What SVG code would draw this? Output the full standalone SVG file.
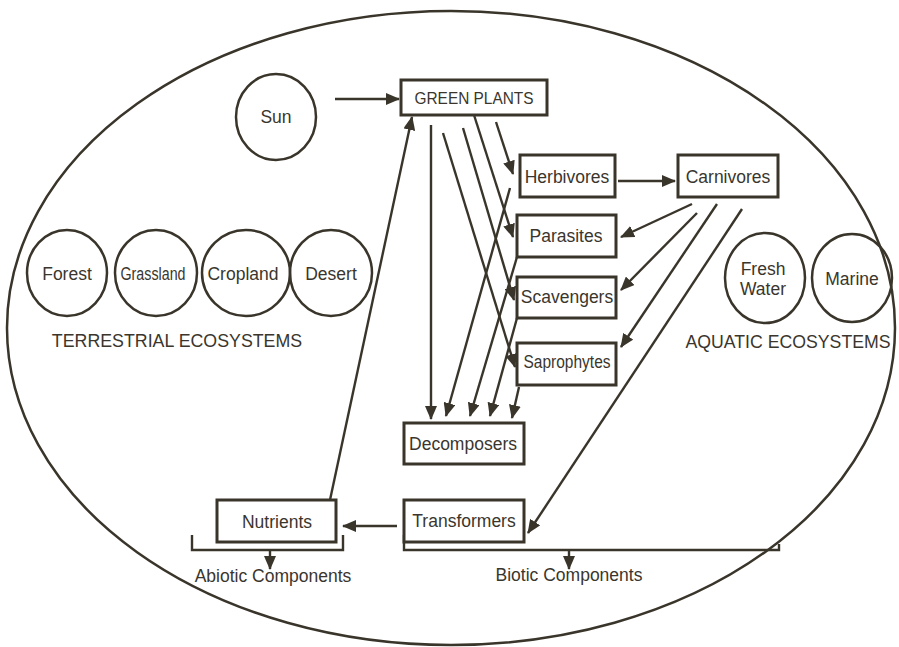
<svg xmlns="http://www.w3.org/2000/svg" width="899" height="647" viewBox="0 0 899 647">
<defs>
<style>
text{font-family:"Liberation Sans",Arial,sans-serif;font-size:17.5px;fill:#3a362d;text-anchor:middle}
.box{fill:#fff;stroke:#3a352b;stroke-width:3}
.ell{fill:none;stroke:#3a352b;stroke-width:2.5}
.ln{fill:none;stroke:#3a352b;stroke-width:2.4}
.ar{fill:none;stroke:#3a352b;stroke-width:2.4;marker-end:url(#ah)}
</style>
<marker id="ah" viewBox="0 0 14 12" refX="13" refY="6" markerWidth="14" markerHeight="12" markerUnits="userSpaceOnUse" orient="auto">
<path d="M0,0 L14,6 L0,12 z" fill="#3a352b"/>
</marker>
</defs>
<rect width="899" height="647" fill="#fff"/>
<ellipse id="outer" class="ell" cx="451" cy="328" rx="444" ry="317"/>

<g id="connectors">
<line class="ar" x1="335" y1="99" x2="399" y2="99"/>
<line class="ar" x1="618" y1="181" x2="675" y2="181"/>
<line class="ar" x1="496" y1="122" x2="513" y2="174"/>
<line class="ar" x1="474" y1="115" x2="513" y2="237"/>
<line class="ar" x1="463" y1="128" x2="514" y2="300"/>
<line class="ar" x1="443" y1="133" x2="515" y2="367"/>
<line class="ar" x1="431" y1="125" x2="431" y2="419"/>
<line class="ar" x1="510" y1="188" x2="446" y2="416"/>
<line class="ar" x1="517" y1="257" x2="470" y2="416"/>
<line class="ar" x1="517" y1="318" x2="490" y2="416"/>
<line class="ar" x1="519" y1="387" x2="512" y2="418"/>
<line class="ar" x1="692" y1="204" x2="621" y2="237"/>
<line class="ar" x1="697" y1="213" x2="621" y2="290"/>
<line class="ar" x1="717" y1="204" x2="621" y2="347"/>
<line class="ar" x1="742" y1="209" x2="528" y2="533"/>
<line class="ar" x1="397" y1="526" x2="343" y2="526"/>
<line class="ar" x1="330" y1="500" x2="412" y2="117"/>
<path class="ln" d="M192,535 V550 H343 V535"/>
<line class="ar" x1="270" y1="550" x2="270" y2="569"/>
<path class="ln" d="M404,535 V550 H779 V544"/>
<line class="ar" x1="569" y1="550" x2="569" y2="569"/>
</g>

<g id="sun"><ellipse class="ell" cx="276" cy="117" rx="40" ry="43"/><text x="276" y="123">Sun</text></g>
<g id="green-plants"><rect class="box" x="401" y="80" width="146" height="35"/><text x="474" y="104" style="font-size:17px" textLength="119" lengthAdjust="spacingAndGlyphs">GREEN PLANTS</text></g>
<g id="herbivores"><rect class="box" x="520" y="155" width="95" height="42"/><text x="567" y="183">Herbivores</text></g>
<g id="carnivores"><rect class="box" x="678" y="155" width="100" height="42"/><text x="728" y="183">Carnivores</text></g>
<g id="parasites"><rect class="box" x="517" y="215" width="99" height="42"/><text x="566" y="242">Parasites</text></g>
<g id="scavengers"><rect class="box" x="517" y="277" width="99" height="41"/><text x="567" y="303">Scavengers</text></g>
<g id="saprophytes"><rect class="box" x="517" y="343" width="99" height="42"/><text x="567" y="368" textLength="87" lengthAdjust="spacingAndGlyphs">Saprophytes</text></g>
<g id="decomposers"><rect class="box" x="404" y="423" width="120" height="41"/><text x="463" y="450">Decomposers</text></g>
<g id="transformers"><rect class="box" x="404" y="500" width="120" height="42"/><text x="464" y="527">Transformers</text></g>
<g id="nutrients"><rect class="box" x="217" y="500" width="119" height="42"/><text x="277" y="528">Nutrients</text></g>

<g id="forest"><ellipse class="ell" cx="67" cy="273" rx="40" ry="43"/><text x="67" y="280">Forest</text></g>
<g id="grassland"><ellipse class="ell" cx="156" cy="273" rx="41" ry="43"/><text x="153" y="280" textLength="65" lengthAdjust="spacingAndGlyphs">Grassland</text></g>
<g id="cropland"><ellipse class="ell" cx="246" cy="273" rx="44" ry="43"/><text x="243" y="280">Cropland</text></g>
<g id="desert"><ellipse class="ell" cx="331" cy="273" rx="41" ry="43"/><text x="331" y="280">Desert</text></g>
<text id="terrestrial" x="177" y="347" style="font-size:17.8px">TERRESTRIAL ECOSYSTEMS</text>

<g id="fresh-water"><ellipse class="ell" cx="765" cy="278" rx="40" ry="45"/><text x="763" y="275">Fresh</text><text x="763" y="295">Water</text></g>
<g id="marine"><ellipse class="ell" cx="852" cy="278" rx="40" ry="44"/><text x="852" y="285">Marine</text></g>
<text id="aquatic" x="788" y="348" style="font-size:17.7px">AQUATIC ECOSYSTEMS</text>

<text id="abiotic" x="273" y="582">Abiotic Components</text>
<text id="biotic" x="569" y="581">Biotic Components</text>
</svg>
